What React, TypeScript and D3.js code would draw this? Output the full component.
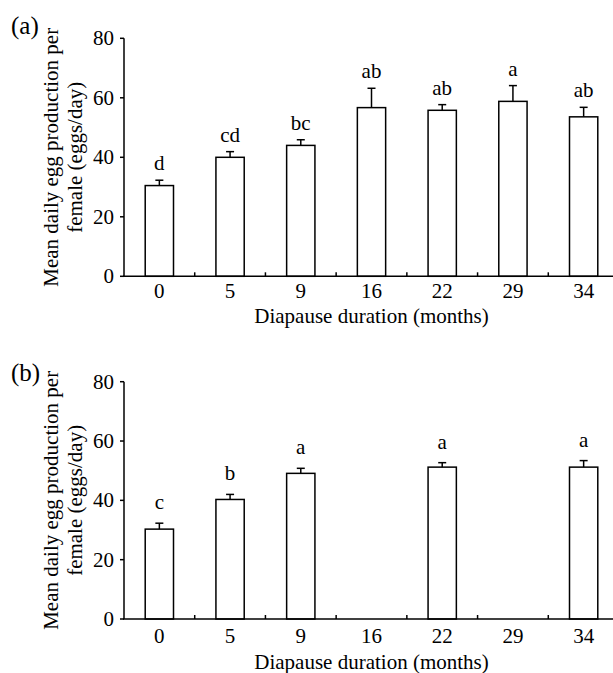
import { useEffect, useRef } from "react";
import * as d3 from "d3";

// Diapause duration categories (months)
const months = ["0", "5", "9", "16", "22", "29", "34"];

// Panel (a)
const meanA = [30.5, 40, 44, 56.7, 55.8, 58.8, 53.6];
const errA = [1.8, 1.9, 1.9, 6.5, 1.9, 5.3, 3.2];
const lettersA = ["d", "cd", "bc", "ab", "ab", "a", "ab"];

// Panel (b) - no data for 16 and 29
const meanB = [30.3, 40.3, 49.1, null, 51.2, null, 51.2];
const errB = [2.0, 1.7, 1.7, null, 1.5, null, 2.2];
const lettersB = ["c", "b", "a", "", "a", "", "a"];

const yTicks = [0, 20, 40, 60, 80];
const yLabelLines = ["Mean daily egg production per", "female (eggs/day)"];
const xLabel = "Diapause duration (months)";

const W = 613;
const H = 673;
const FONT = "'Liberation Serif', 'Times New Roman', serif";

const App = () => {
  const svgRef = useRef<SVGSVGElement>(null);

  useEffect(() => {
    const svg = d3.select(svgRef.current);
    svg.selectAll("*").remove();

    const left = 124;
    const plotW = 495;

    const panels = [
      { tag: "(a)", tagY: 34, top: 38.3, bottom: 276.3, mean: meanA, err: errA, letters: lettersA, gap: 10, tickDy: 21.5, titleDy: 47 },
      { tag: "(b)", tagY: 381, top: 381.7, bottom: 619, mean: meanB, err: errB, letters: lettersB, gap: 14, tickDy: 24, titleDy: 49.5 },
    ];

    const x = d3
      .scaleBand()
      .domain(months)
      .range([left, left + plotW])
      .paddingInner(0.6)
      .paddingOuter(0.3);

    panels.forEach((p) => {
      const y = d3.scaleLinear().domain([0, 80]).range([p.bottom, p.top]);
      const g = svg.append("g");

      // bars
      const rows = months
        .map((m, i) => ({ m, v: p.mean[i], e: p.err[i], l: p.letters[i] }))
        .filter((d) => d.v != null) as { m: string; v: number; e: number; l: string }[];

      g.selectAll(".bar")
        .data(rows)
        .enter()
        .append("rect")
        .attr("x", (d) => x(d.m)!)
        .attr("y", (d) => y(d.v))
        .attr("width", x.bandwidth())
        .attr("height", (d) => y(0) - y(d.v))
        .attr("fill", "#fff")
        .attr("stroke", "#000")
        .attr("stroke-width", 1.5);

      // error bars (upper only)
      const cx = (d: { m: string }) => x(d.m)! + x.bandwidth() / 2;
      g.selectAll(".err")
        .data(rows)
        .enter()
        .append("line")
        .attr("x1", cx)
        .attr("x2", cx)
        .attr("y1", (d) => y(d.v))
        .attr("y2", (d) => y(d.v + d.e))
        .attr("stroke", "#000")
        .attr("stroke-width", 1.5);
      g.selectAll(".cap")
        .data(rows)
        .enter()
        .append("line")
        .attr("x1", (d) => cx(d) - 4)
        .attr("x2", (d) => cx(d) + 4)
        .attr("y1", (d) => y(d.v + d.e))
        .attr("y2", (d) => y(d.v + d.e))
        .attr("stroke", "#000")
        .attr("stroke-width", 1.5);

      // significance letters
      g.selectAll(".letter")
        .data(rows)
        .enter()
        .append("text")
        .attr("x", cx)
        .attr("y", (d) => y(d.v + d.e) - p.gap)
        .attr("text-anchor", "middle")
        .attr("font-family", FONT)
        .attr("font-size", 21)
        .text((d) => d.l);

      // y axis
      g.append("line")
        .attr("x1", left)
        .attr("x2", left)
        .attr("y1", y(80))
        .attr("y2", y(0))
        .attr("stroke", "#000")
        .attr("stroke-width", 1.5);
      g.selectAll(".ytick")
        .data(yTicks)
        .enter()
        .append("line")
        .attr("x1", left - 4)
        .attr("x2", left)
        .attr("y1", (d) => y(d))
        .attr("y2", (d) => y(d))
        .attr("stroke", "#000")
        .attr("stroke-width", 1.5);
      g.selectAll(".ylab")
        .data(yTicks)
        .enter()
        .append("text")
        .attr("x", left - 10)
        .attr("y", (d) => y(d))
        .attr("dy", "0.34em")
        .attr("text-anchor", "end")
        .attr("font-family", FONT)
        .attr("font-size", 21)
        .text((d) => d);

      // x axis
      g.append("line")
        .attr("x1", left - 1)
        .attr("x2", left + plotW)
        .attr("y1", y(0))
        .attr("y2", y(0))
        .attr("stroke", "#000")
        .attr("stroke-width", 1.5);
      g.selectAll(".xtick")
        .data(d3.range(1, months.length + 1))
        .enter()
        .append("line")
        .attr("x1", (k) => left + k * x.step())
        .attr("x2", (k) => left + k * x.step())
        .attr("y1", y(0))
        .attr("y2", y(0) - 4)
        .attr("stroke", "#000")
        .attr("stroke-width", 1.5);
      g.selectAll(".xlab")
        .data(months)
        .enter()
        .append("text")
        .attr("x", (m) => x(m)! + x.bandwidth() / 2)
        .attr("y", y(0) + p.tickDy)
        .attr("text-anchor", "middle")
        .attr("font-family", FONT)
        .attr("font-size", 21)
        .text((m) => m);

      g.append("text")
        .attr("x", left + plotW / 2)
        .attr("y", y(0) + p.titleDy)
        .attr("text-anchor", "middle")
        .attr("font-family", FONT)
        .attr("font-size", 21)
        .text(xLabel);

      // y label, two lines rotated
      const midY = (p.top + p.bottom) / 2;
      yLabelLines.forEach((line, i) => {
        const bx = 58 + i * 24;
        g.append("text")
          .attr("transform", `translate(${bx},${midY}) rotate(-90)`)
          .attr("text-anchor", "middle")
          .attr("font-family", FONT)
          .attr("font-size", 21)
          .text(line);
      });

      // panel tag
      g.append("text")
        .attr("x", 11)
        .attr("y", p.tagY)
        .attr("font-family", FONT)
        .attr("font-size", 25)
        .text(p.tag);
    });
  }, []);

  return (
    <svg
      ref={svgRef}
      width={W}
      height={H}
      style={{ position: "absolute", left: 0, top: 0, background: "#fff" }}
    />
  );
};

export default App;
